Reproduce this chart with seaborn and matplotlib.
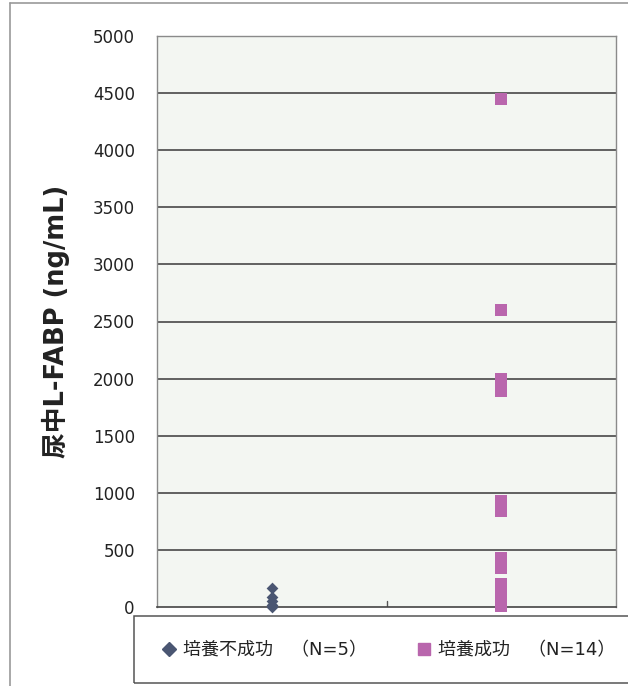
import numpy as np
import pandas as pd
import matplotlib
matplotlib.use("Agg")
import matplotlib.pyplot as plt
from matplotlib.lines import Line2D
from matplotlib.patches import Rectangle
import seaborn as sns

# Groups and urinary L-FABP values (ng/mL)
groups = ["培養不成功　（N=5）", "培養成功　（N=14）"]
failed_values = [170, 90, 50, 15, 0]
success_values = [4450, 2600, 2000, 1890, 930, 840, 430, 340,
                  200, 160, 120, 80, 40, 10]
y_ticks = [0, 500, 1000, 1500, 2000, 2500, 3000, 3500, 4000, 4500, 5000]
colors = ["#4a5672", "#b966ad"]
markers = ["D", "s"]

df = pd.DataFrame({
    "group": [groups[0]] * len(failed_values) + [groups[1]] * len(success_values),
    "value": failed_values + success_values,
})

sns.set_theme(style="white")
plt.rcParams["font.family"] = ["DejaVu Sans", "Noto Sans CJK JP"]

W, H = 628, 686
fig = plt.figure(figsize=(W / 100, H / 100), dpi=100)
fig.patch.set_facecolor("white")

# axes box in pixel terms
left, right, top, bottom = 157, 616, 36, 607
ax = fig.add_axes([left / W, 1 - bottom / H, (right - left) / W, (bottom - top) / H])
ax.set_facecolor("#f3f6f2")

sizes = [6.0, 9.0]
for g, c, m, s in zip(groups, colors, markers, sizes):
    sns.stripplot(data=df[df["group"] == g], x="group", y="value", order=groups,
                  jitter=False, color=c, marker=m, size=s, linewidth=0,
                  ax=ax, zorder=5, clip_on=False)

ax.set_xlim(-0.5, 1.5)
ax.set_ylim(0, 5000)
ax.set_yticks(y_ticks)
ax.set_yticklabels([str(t) for t in y_ticks], fontsize=12, color="#222222")
ax.set_xticks([])
ax.set_xlabel("")
for t in y_ticks[1:-1]:
    ax.axhline(t, color="#555555", lw=1.3, zorder=1)
ax.tick_params(axis="y", length=0, pad=16)

# small category divider tick on the bottom axis
ax.plot([0.5, 0.5], [0, 50], color="#555555", lw=1, zorder=2)

for side in ["left", "right", "top"]:
    ax.spines[side].set_color("#8a8a8a")
    ax.spines[side].set_linewidth(1)
ax.spines["bottom"].set_color("#444444")
ax.spines["bottom"].set_linewidth(1.2)

ax.set_ylabel("尿中L-FABP (ng/mL)", fontsize=18.5, fontweight="bold",
              color="#222222", labelpad=16)

# outer chart frame (left and top edges)
fig.add_artist(Line2D([10 / W, 10 / W], [0, 1 - 3 / H], transform=fig.transFigure,
                      color="#999999", lw=1.2))
fig.add_artist(Line2D([10 / W, 1], [1 - 3 / H, 1 - 3 / H], transform=fig.transFigure,
                      color="#999999", lw=1.2))

# legend box
lx0, lx1, ly0, ly1 = 134, 640, 616, 683
fig.add_artist(Rectangle((lx0 / W, 1 - ly1 / H), (lx1 - lx0) / W, (ly1 - ly0) / H,
                         transform=fig.transFigure, fill=False,
                         edgecolor="#555555", lw=1.1))
handles = [Line2D([], [], linestyle="none", marker=m, color=c,
                  markersize=(7.5 if m == "D" else 8.5))
           for m, c in zip(markers, colors)]
fig.legend(handles, groups, loc="center left", ncol=2,
           bbox_to_anchor=(146 / W, 1 - 650 / H), frameon=False,
           prop={"size": 13},
           handlelength=0.75, handletextpad=0.42, columnspacing=2.75,
           labelcolor="#222222")

fig.savefig("out.png", dpi=100)
